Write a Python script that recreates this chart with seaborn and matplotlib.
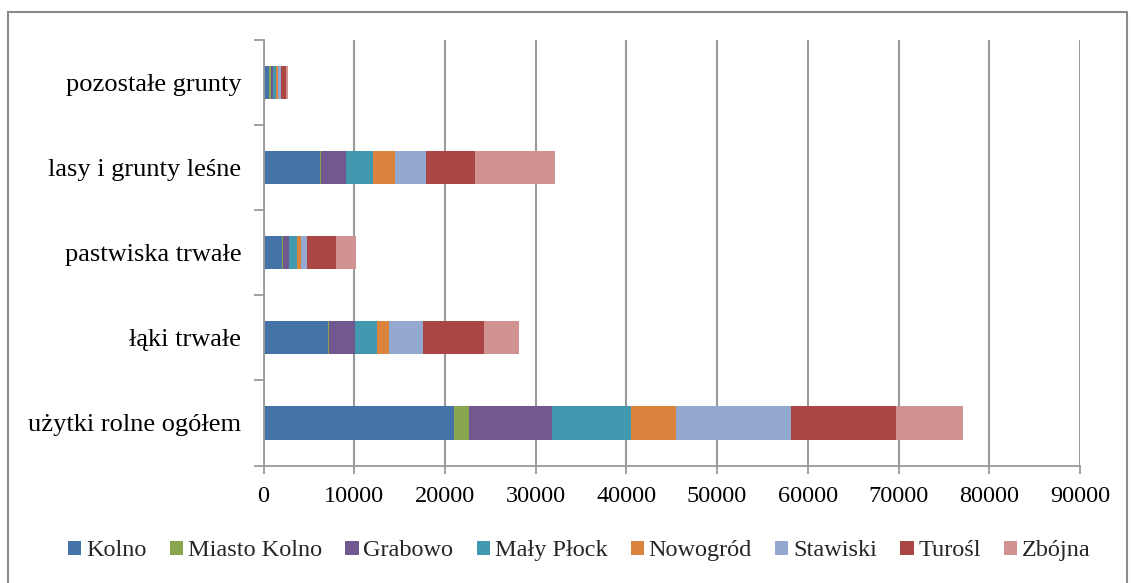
import matplotlib
matplotlib.use("Agg")
import matplotlib.pyplot as plt
from matplotlib.patches import Rectangle, Patch
import seaborn as sns
import pandas as pd
import numpy as np

categories = ["pozostałe grunty", "lasy i grunty leśne", "pastwiska trwałe",
              "łąki trwałe", "użytki rolne ogółem"]
series = ["Kolno", "Miasto Kolno", "Grabowo", "Mały Płock", "Nowogród",
          "Stawiski", "Turośl", "Zbójna"]
kolno = [570, 6230, 1990, 7110, 21000]
miasto_kolno = [220, 150, 190, 110, 1690]
grabowo = [290, 2740, 660, 2820, 9100]
maly_plock = [330, 2960, 850, 2440, 8750]
nowogrod = [190, 2400, 440, 1300, 4960]
stawiski = [360, 3400, 700, 3850, 12630]
turosl = [520, 5400, 3210, 6700, 11560]
zbojna = [220, 8840, 2180, 3850, 7420]
x_ticks = [0, 10000, 20000, 30000, 40000, 50000, 60000, 70000, 80000, 90000]

colors = ["#4572A7", "#89A54E", "#71588F", "#4198AF", "#DB843D",
          "#93A9CF", "#AA4643", "#D19392"]

values = [kolno, miasto_kolno, grabowo, maly_plock, nowogrod, stawiski, turosl, zbojna]
df = pd.DataFrame({"category": categories})
for name, vals in zip(series, values):
    df[name] = vals
cum = df[series].cumsum(axis=1)

sns.set_theme(style="white")
plt.rcParams["font.family"] = ["Liberation Serif", "DejaVu Serif"]

fig = plt.figure(figsize=(11.32, 5.83), dpi=100)
ax = fig.add_axes([0.2328, 0.2015, 0.954 - 0.2328, 0.9314 - 0.2015])

# stacked by overlaying cumulative totals (largest first)
for name, col in reversed(list(zip(series, colors))):
    sns.barplot(x=cum[name], y=df["category"], order=categories, orient="h",
                color=col, width=0.39, ax=ax, saturation=1, linewidth=0)

ax.set_xlim(0, 90000)
ax.set_ylim(4.5, -0.5)
ax.set_xticks(x_ticks)
ax.set_xticklabels([str(t) for t in x_ticks])
ax.xaxis.grid(True, color="#9a9a9a", linewidth=1.5)
ax.yaxis.grid(False)
ax.set_axisbelow(True)
ax.set_xlabel("")
ax.set_ylabel("")

for s in ["top", "right"]:
    ax.spines[s].set_visible(False)
for s in ["left", "bottom"]:
    ax.spines[s].set_color("#9a9a9a")
    ax.spines[s].set_linewidth(1.3)

ax.tick_params(axis="x", which="major", bottom=True, length=6, width=1.3,
               color="#9a9a9a", direction="out", pad=9, labelsize=17.5,
               labelcolor="black")
ax.set_yticks(range(len(categories)))
ax.set_yticklabels(categories)
ax.tick_params(axis="y", which="major", left=True, length=0, pad=16,
               labelsize=19, labelcolor="black")
ax.set_yticks(np.arange(-0.5, len(categories), 1.0), minor=True)
ax.tick_params(axis="y", which="minor", left=True, length=7, width=1.3,
               color="#9a9a9a", direction="out")

handles = [Patch(facecolor=c, edgecolor="none") for c in colors]
fig.legend(handles, series, loc="center", bbox_to_anchor=(0.512, 0.055),
           ncol=8, frameon=False, fontsize=17.5, handlelength=0.55,
           handleheight=0.55, handletextpad=0.2, columnspacing=0.95)

fig.patches.append(Rectangle((8 / 1132, -0.05), (1127 - 8) / 1132, 1.05 - 12 / 583,
                             transform=fig.transFigure, fill=False,
                             edgecolor="#8a8a8a", linewidth=1.5))

fig.savefig("out.png", dpi=100)
